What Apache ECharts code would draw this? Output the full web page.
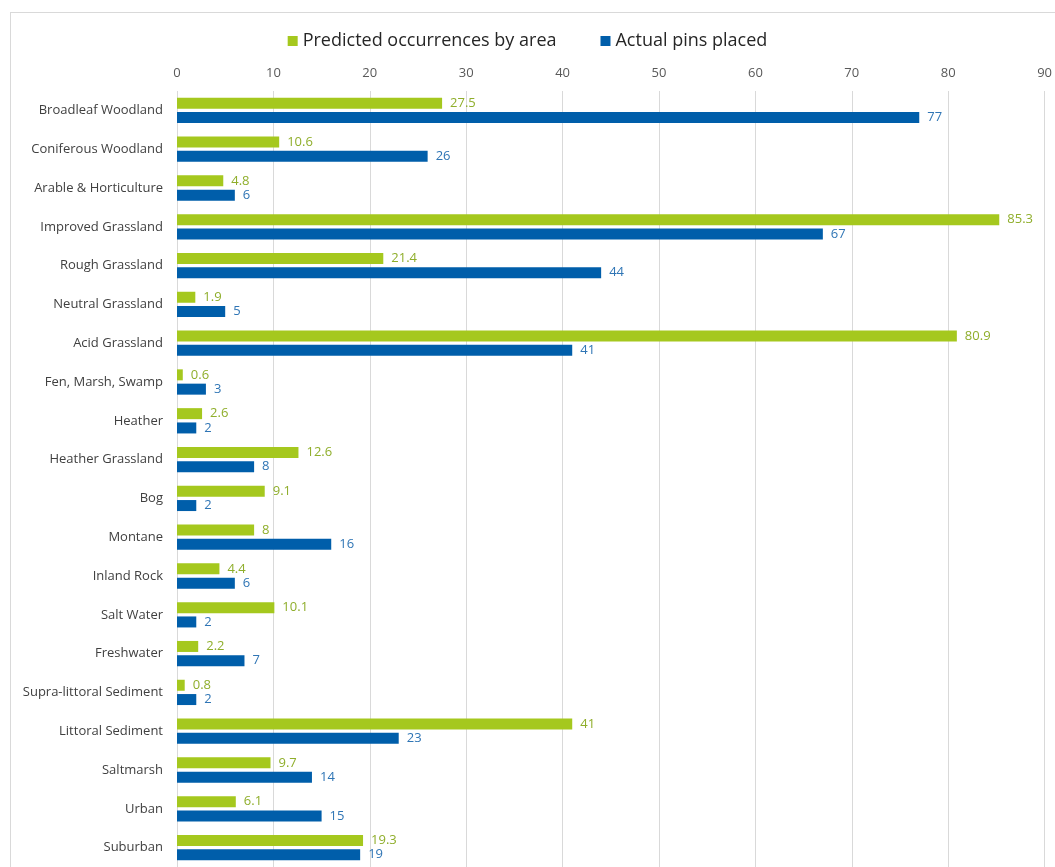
<!DOCTYPE html>
<html>
<head>
<meta charset="utf-8">
<script src="https://cdn.jsdelivr.net/npm/echarts@6/dist/echarts.min.js"></script>
<style>
  html, body { margin: 0; padding: 0; background: #fff; overflow: hidden; }
  #frame { position: absolute; left: 10px; top: 12px; width: 1060px; height: 880px; border: 1px solid #d9d9d9; }
  #chart { position: absolute; left: 0; top: 0; width: 1055px; height: 867px; }
</style>
</head>
<body>
<div id="frame"></div>
<div id="chart"></div>
<script>
var categories = ['Broadleaf Woodland', 'Coniferous Woodland', 'Arable & Horticulture', 'Improved Grassland',
    'Rough Grassland', 'Neutral Grassland', 'Acid Grassland', 'Fen, Marsh, Swamp', 'Heather',
    'Heather Grassland', 'Bog', 'Montane', 'Inland Rock', 'Salt Water', 'Freshwater',
    'Supra-littoral Sediment', 'Littoral Sediment', 'Saltmarsh', 'Urban', 'Suburban'];
var predicted = [27.5, 10.6, 4.8, 85.3, 21.4, 1.9, 80.9, 0.6, 2.6, 12.6, 9.1, 8, 4.4, 10.1, 2.2, 0.8, 41, 9.7, 6.1, 19.3];
var actual = [77, 26, 6, 67, 44, 5, 41, 3, 2, 8, 2, 16, 6, 2, 7, 2, 23, 14, 15, 19];

var font = '"Open Sans", "Noto Sans", sans-serif';

function loadChart() {
    var myChart = echarts.init(document.getElementById('chart'));
    myChart.setOption(makeOption());
}

function makeOption() {
    var option = {
        animation: false,
        legend: {
            top: 27,
            left: 'center',
            itemWidth: 10,
            itemHeight: 10,
            itemGap: 44,
            icon: 'rect',
            textStyle: { fontFamily: font, fontSize: 18, color: '#262626' },
            data: ['Predicted occurrences by area', 'Actual pins placed']
        },
        grid: {
            left: 177,
            right: 10,
            top: 91,
            bottom: 0,
            containLabel: false
        },
        xAxis: {
            type: 'value',
            position: 'top',
            min: 0,
            max: 90,
            interval: 10,
            axisLine: { show: false },
            axisTick: { show: false },
            axisLabel: { margin: 11, fontFamily: font, fontSize: 13, color: '#595959' },
            splitLine: { lineStyle: { color: '#d9d9d9', width: 1 } }
        },
        yAxis: {
            type: 'category',
            inverse: true,
            data: categories,
            axisLine: { show: false },
            axisTick: { show: false },
            axisLabel: { margin: 14, fontFamily: font, fontSize: 13, color: '#404040' }
        },
        series: [{
            name: 'Predicted occurrences by area',
            type: 'bar',
            data: predicted,
            barWidth: 11,
            barGap: '30%',
            itemStyle: { color: '#a5c81e' },
            label: {
                show: true,
                position: 'right',
                distance: 8,
                fontFamily: font,
                fontSize: 13,
                color: '#8fae2b'
            }
        }, {
            name: 'Actual pins placed',
            type: 'bar',
            data: actual,
            barWidth: 11,
            itemStyle: { color: '#005eaa' },
            label: {
                show: true,
                position: 'right',
                distance: 8,
                fontFamily: font,
                fontSize: 13,
                color: '#2f75b5'
            }
        }]
    };
    return option;
}

loadChart();
</script>
</body>
</html>
